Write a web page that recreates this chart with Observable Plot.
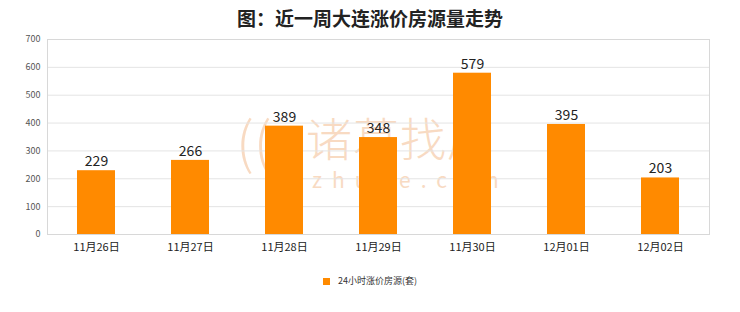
<!DOCTYPE html>
<html><head><meta charset="utf-8">
<script src="https://cdn.jsdelivr.net/npm/d3@7"></script>
<script src="https://cdn.jsdelivr.net/npm/@observablehq/plot@0.6"></script>
<style>
body{margin:0;background:#fff;font-family:"Noto Sans CJK SC",sans-serif;}
#wrap{width:740px;height:312px;position:relative;overflow:hidden;}
#title{height:30px;line-height:36px;text-align:center;font-size:19px;font-weight:bold;color:#222;}
#chart{position:relative;z-index:2;}
#legend{position:absolute;top:274px;left:0;width:740px;text-align:center;font-size:9px;color:#333;}
#legend span.sw{display:inline-block;width:7px;height:7px;background:#ff8a00;margin-right:8px;vertical-align:middle;}
.wm{position:absolute;z-index:1;color:#f8dac2;white-space:nowrap;}
#wm0{left:236px;top:98px;font-size:56px;font-weight:300;}
#wm{left:306px;top:103px;font-size:46px;font-weight:300;letter-spacing:1px;}
#wm2{left:312px;top:164px;font-size:21px;letter-spacing:10px;}
</style></head>
<body><div id="wrap">
<div id="title">图：近一周大连涨价房源量走势</div>
<div id="chart"></div>
<div class="wm" id="wm0">((</div>
<div class="wm" id="wm">诸葛找房</div>
<div class="wm" id="wm2">zhuge.com</div>
<div id="legend"><span class="sw"></span>24小时涨价房源(套)</div>
</div>
<script>
const categories = ["11月26日","11月27日","11月28日","11月29日","11月30日","12月01日","12月02日"];
const values = [229,266,389,348,579,395,203];
const yTicks = [0,100,200,300,400,500,600,700];
const data = categories.map((c,i)=>({date:c, value:values[i]}));
const chart = Plot.plot({
  width:740, height:230,
  marginTop:9, marginBottom:26, marginLeft:47, marginRight:31,
  style:{fontFamily:"'Noto Sans CJK SC',sans-serif", background:"transparent"},
  x:{domain:categories, paddingInner:0.6, paddingOuter:0.3, align:0.5, label:null, tickSize:0, tickPadding:6},
  y:{domain:[0,700], ticks:yTicks, label:null, tickSize:0, tickPadding:7},
  marks:[
    Plot.gridY(yTicks,{stroke:"#e4e4e4", strokeOpacity:1}),
    Plot.frame({stroke:"#d8d8d8"}),
    Plot.barY(data,{x:"date", y:"value", fill:"#ff8a00"}),
    Plot.text(data,{x:"date", y:"value", text:d=>String(d.value), dy:-9, fontSize:14, fill:"#222"}),
    Plot.axisY({ticks:yTicks, tickSize:0, tickPadding:7, fontSize:9, fill:"#555", label:null}),
    Plot.axisX({tickSize:0, tickPadding:9, fontSize:11, fill:"#222", label:null})
  ]
});
document.getElementById("chart").appendChild(chart);
</script>
</body></html>
